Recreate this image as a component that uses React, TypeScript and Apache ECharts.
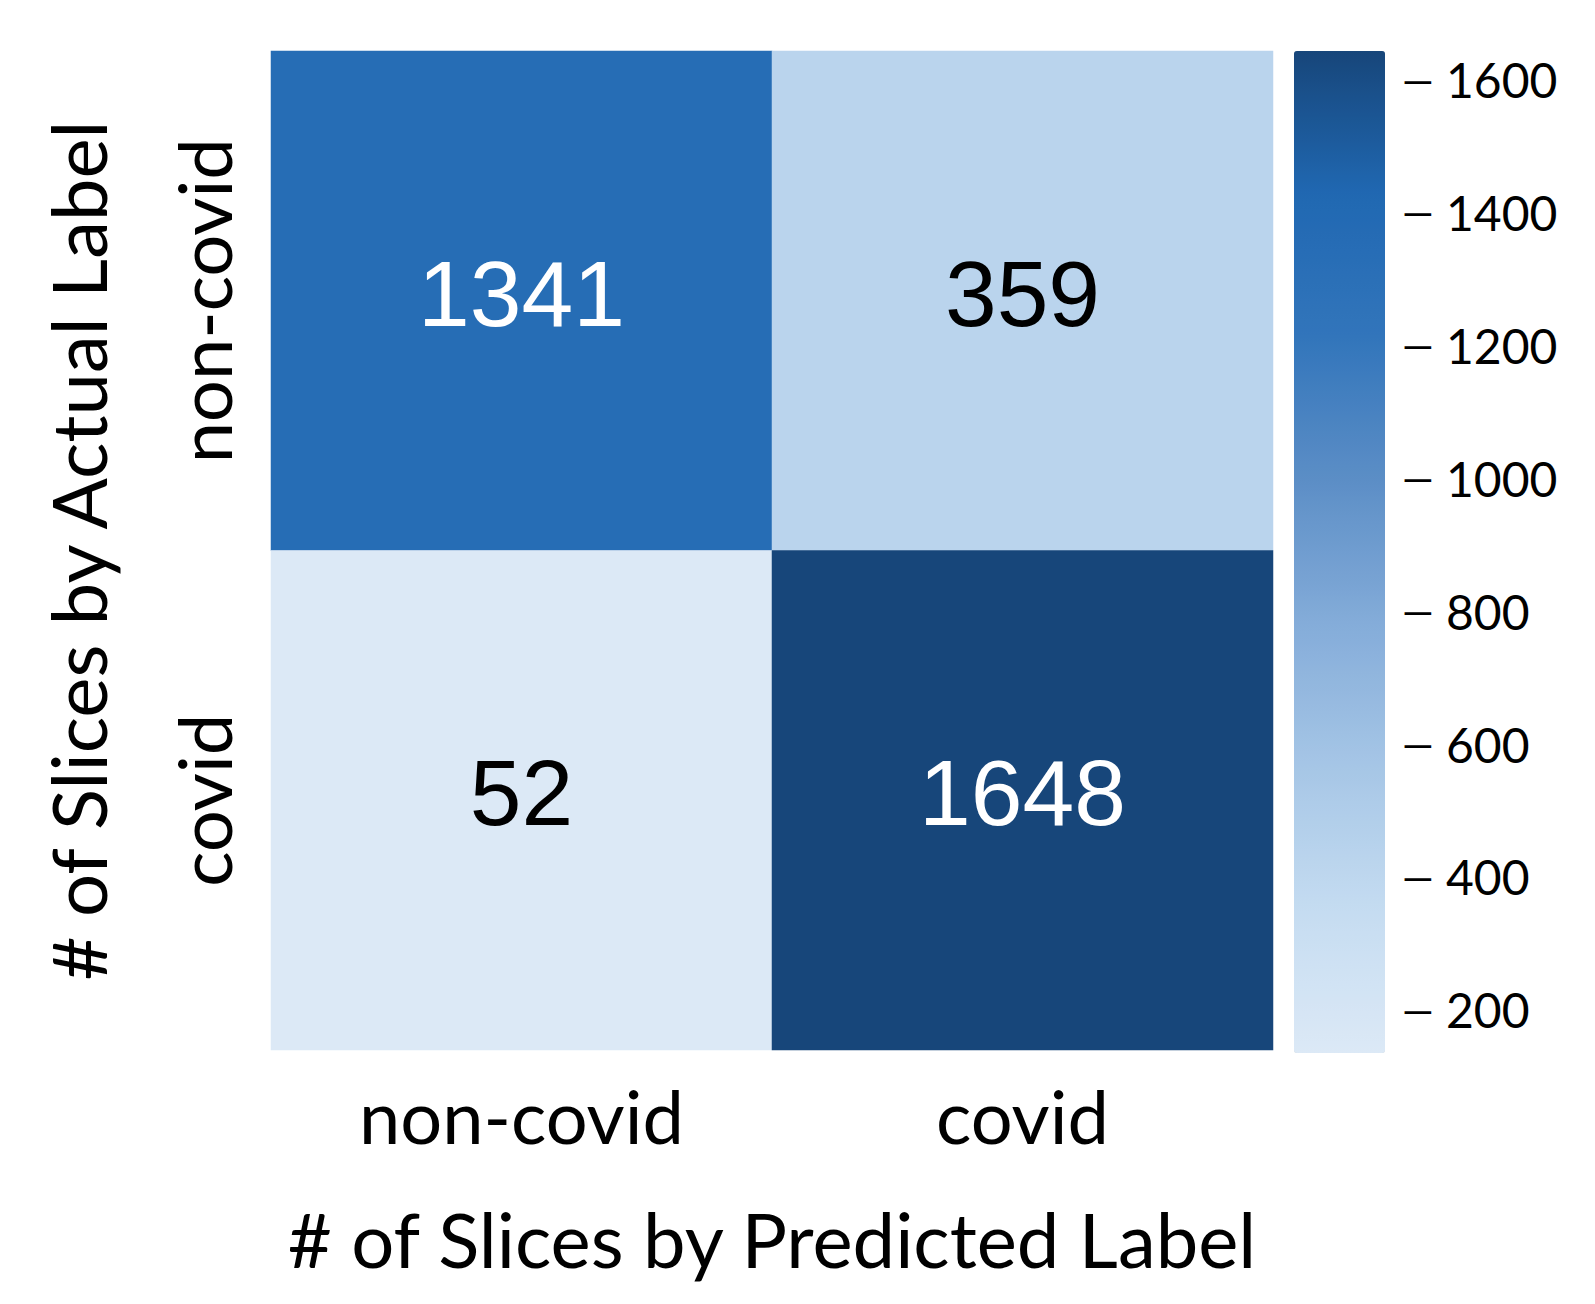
import React, { useEffect, useRef } from "react";
import * as echarts from "echarts";

const predictedLabels = ["non-covid", "covid"];
const actualLabels = ["non-covid", "covid"];
// rows: actual label, columns: predicted label
const matrix = [
  [1341, 359],
  [52, 1648],
];
const colorbarTicks = [200, 400, 600, 800, 1000, 1200, 1400, 1600];
const colorbarRange = [135, 1643];
const blues = ["#dce9f6", "#c5dcf1", "#a6c6e6", "#84acd9", "#5c8ec6", "#3275bb", "#2068b2", "#17467a"];

const LABEL_FONT = "Lato, 'Noto Sans', sans-serif";

export default function App() {
  const ref = useRef<HTMLDivElement>(null);
  useEffect(() => {
    if (!ref.current) return;
    const chart = echarts.init(ref.current, undefined, { renderer: "svg" });
    const flat = matrix.flat();
    const vmin = Math.min(...flat);
    const vmax = Math.max(...flat);
    const mid = (vmin + vmax) / 2;
    const data: any[] = [];
    matrix.forEach((row, r) =>
      row.forEach((v, c) => {
        data.push({ value: [c, r, v], label: { color: v > mid ? "#ffffff" : "#000000" } });
      })
    );
    chart.setOption({
      animation: false,
      backgroundColor: "#ffffff",
      grid: [
        { left: 271, top: 51, width: 1002, height: 999 },
        { left: 1294, top: 51, width: 91, height: 1002 },
      ],
      xAxis: [
        {
          type: "category",
          gridIndex: 0,
          data: predictedLabels,
          axisLine: { show: false },
          axisTick: { show: false },
          splitLine: { show: false },
          axisLabel: { fontSize: 74, fontFamily: LABEL_FONT, color: "#000", margin: 28 },
          name: "# of Slices by Predicted Label",
          nameLocation: "middle",
          nameGap: 150,
          nameTextStyle: { fontSize: 76, fontFamily: LABEL_FONT, color: "#000" },
        },
        { type: "value", gridIndex: 1, show: false, min: 0, max: 1 },
      ],
      yAxis: [
        {
          type: "category",
          gridIndex: 0,
          data: actualLabels,
          inverse: true,
          axisLine: { show: false },
          axisTick: { show: false },
          splitLine: { show: false },
          axisLabel: { fontSize: 74, fontFamily: LABEL_FONT, color: "#000", rotate: 90, margin: 31 },
          name: "# of Slices by Actual Label",
          nameLocation: "middle",
          nameGap: 156,
          nameTextStyle: { fontSize: 76, fontFamily: LABEL_FONT, color: "#000" },
        },
        {
          type: "value",
          gridIndex: 1,
          min: colorbarRange[0],
          max: colorbarRange[1],
          position: "right",
          axisLine: { show: false },
          splitLine: { show: false },
          axisTick: { show: false },
          axisLabel: {
            customValues: colorbarTicks,
            formatter: (v: number) => "{d|\u2014}{n| " + String(v) + "}",
            margin: 17,
            fontSize: 48,
            fontFamily: LABEL_FONT,
            color: "#000",
            rich: {
              d: { fontSize: 40, fontFamily: LABEL_FONT, color: "#000", verticalAlign: "middle" },
              n: { fontSize: 48, fontFamily: LABEL_FONT, color: "#000", verticalAlign: "middle" },
            },
          },
        },
      ],
      visualMap: {
        type: "continuous",
        min: vmin,
        max: vmax,
        seriesIndex: 0,
        calculable: false,
        orient: "vertical",
        left: 1294,
        top: 51,
        itemWidth: 91,
        itemHeight: 1002,
        padding: 0,
        text: null,
        showLabel: false,
        inRange: { color: blues },
      },
      series: [
        {
          type: "heatmap",
          xAxisIndex: 0,
          yAxisIndex: 0,
          data,
          label: {
            show: true,
            fontSize: 93,
            offset: [0, -7],
            fontFamily: "'Liberation Sans', Arial, sans-serif",
            formatter: (p: any) => String(p.value[2]),
          },
          itemStyle: { borderWidth: 0 },
          emphasis: { disabled: true },
        },
      ],
    });
    return () => chart.dispose();
  }, []);
  return (
    <div
      ref={ref}
      style={{ position: "fixed", left: 0, top: 0, width: 1595, height: 1304, background: "#fff" }}
    />
  );
}
